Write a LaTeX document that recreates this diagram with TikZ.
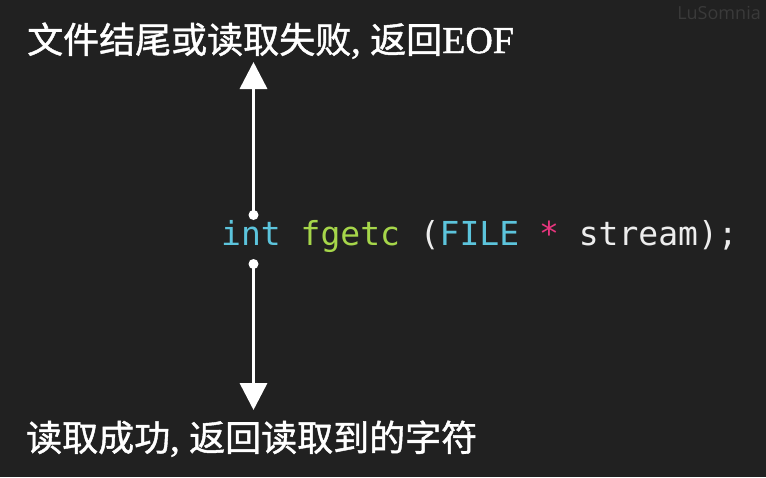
\documentclass[tikz,border=0pt]{standalone}
\usepackage{fontspec}
\newfontfamily\cjk[FakeBold=1.2]{Noto Sans CJK SC}
\newfontfamily\lser[FakeBold=1.2]{Liberation Serif}
\newfontfamily\mono{DejaVu Sans Mono}
\newfontfamily\wmfont{Open Sans}
\usetikzlibrary{arrows.meta}
\definecolor{bg}{HTML}{212121}
\definecolor{cint}{HTML}{5CC4DC}
\definecolor{cfun}{HTML}{A6D64A}
\definecolor{cstar}{HTML}{E8357E}
\definecolor{ctext}{HTML}{EDEDED}
\definecolor{wmcol}{HTML}{3A3A3A}
\tikzset{
  label text/.style={inner sep=0pt, anchor=base west, text=white,
    font=\cjk\fontsize{36pt}{36pt}\selectfont},
  latin part/.style={},
  code text/.style={inner sep=0pt, anchor=base west, text=ctext,
    font=\mono\fontsize{33pt}{33pt}\selectfont},
  dotnode/.style={circle, fill=white, inner sep=0pt, minimum size=10pt},
  callout/.style={draw=white, line width=3.5pt,
    -{Triangle[width=27pt,length=27pt]}},
}
\newcommand{\latinbit}[1]{{\lser\fontsize{38pt}{38pt}\selectfont #1}}
\begin{document}
\begin{tikzpicture}[x=1pt,y=-1pt]
\fill[bg] (0,0) rectangle (766,477);
\useasboundingbox (0,0) rectangle (766,477);
% watermark
\node[inner sep=0pt, anchor=base east, text=wmcol,
  font=\wmfont\fontsize{18pt}{18pt}\selectfont] (wm) at (761,19) {LuSomnia};
% labels
\node[label text] (top) at (27,53) {文件结尾或读取失败\latinbit{, }返回\latinbit{EOF}};
\node[label text] (bottom) at (26,451) {读取成功\latinbit{, }返回读取到的字符};
% code
\node[code text] (code) at (221,245)
  {{\color{cint}int} {\color{cfun}fgetc} ({\color{cint}FILE} {\color{cstar}*} stream);};
% dots and arrow ends
\node[dotnode] (d1) at (253.5,215) {};
\node[dotnode] (d2) at (253.5,264) {};
\coordinate (t1) at (253.5,62);
\coordinate (t2) at (253.5,410);
\draw[callout] (d1.center) -- (t1);
\draw[callout] (d2.center) -- (t2);
\end{tikzpicture}
\end{document}
